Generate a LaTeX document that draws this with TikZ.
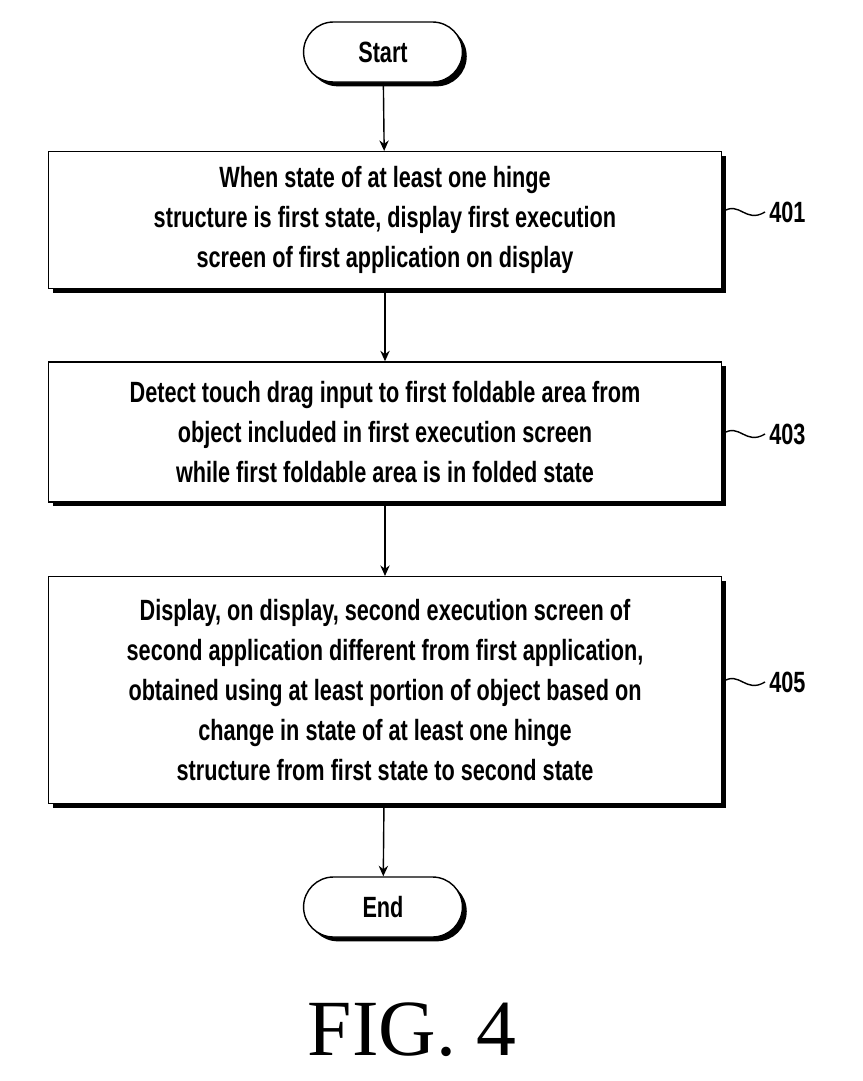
\documentclass[tikz,border=0pt]{standalone}
\usepackage{fontspec}
\setmainfont{Liberation Sans}[FakeStretch=0.74]
\newfontfamily\figfont{Liberation Serif}
\usetikzlibrary{arrows.meta,positioning,shadows,shapes.misc}

\begin{document}
\begin{tikzpicture}[
	x = 0.03cm, y = -0.03cm,
	> = stealth, % arrow head style
	thick, % line style
	every node/.style={font=\fontsize{25}{34}\selectfont\bfseries},
	box/.style={rectangle, draw=black, line width=1.2pt, fill=white, minimum width=20.2cm, align=center, drop shadow={shadow xshift=0.13cm, shadow yshift=-0.13cm, fill=black, opacity=1}},
	term/.style={rounded rectangle, draw=black, line width=1.2pt, fill=white, minimum width=5cm, minimum height=1.8cm, drop shadow={shadow xshift=0.13cm, shadow yshift=-0.13cm, fill=black, opacity=1}},
	tag/.style={anchor=west},
	flow/.style={->, line width=1.2pt, >={Stealth[length=9pt,width=8pt]}},
	]
	\useasboundingbox (0,0) rectangle (863,1081);

	% Nodes
	\node[term] (start) at (383,52) {Start};
	\node[box, minimum height=4.1cm] (s401) at (385,220) {When state of at least one hinge\\structure is first state, display first execution\\screen of first application on display};
	\node[box, minimum height=4.2cm] (s403) at (385,432) {Detect touch drag input to first foldable area from\\object included in first execution screen\\while first foldable area is in folded state};
	\node[box, minimum height=6.8cm] (s405) at (385,690) {Display, on display, second execution screen of\\second application different from first application,\\obtained using at least portion of object based on\\change in state of at least one hinge\\structure from first state to second state};
	\node[term] (end) at (383,907) {End};

	% Step labels
	\node[tag] (l401) at (765,212) {401};
	\node[tag] (l403) at (765,434) {403};
	\node[tag] (l405) at (765,682) {405};
	\draw[line width=1.2pt] (s401.east |- l401) .. controls (740,200) and (745,224) .. (l401.west);
	\draw[line width=1.2pt] (s403.east |- l403) .. controls (740,422) and (745,446) .. (l403.west);
	\draw[line width=1.2pt] (s405.east |- l405) .. controls (740,670) and (745,694) .. (l405.west);

	% Paths
	\draw[flow] (start) -- (s401);
	\draw[flow] (s401) -- (s403);
	\draw[flow] (s403) -- (s405);
	\draw[flow] (s405) -- (end);

	\node[font=\fontsize{68}{70}\figfont] (fig) at (412,1030) {FIG. 4};
\end{tikzpicture}
\end{document}
